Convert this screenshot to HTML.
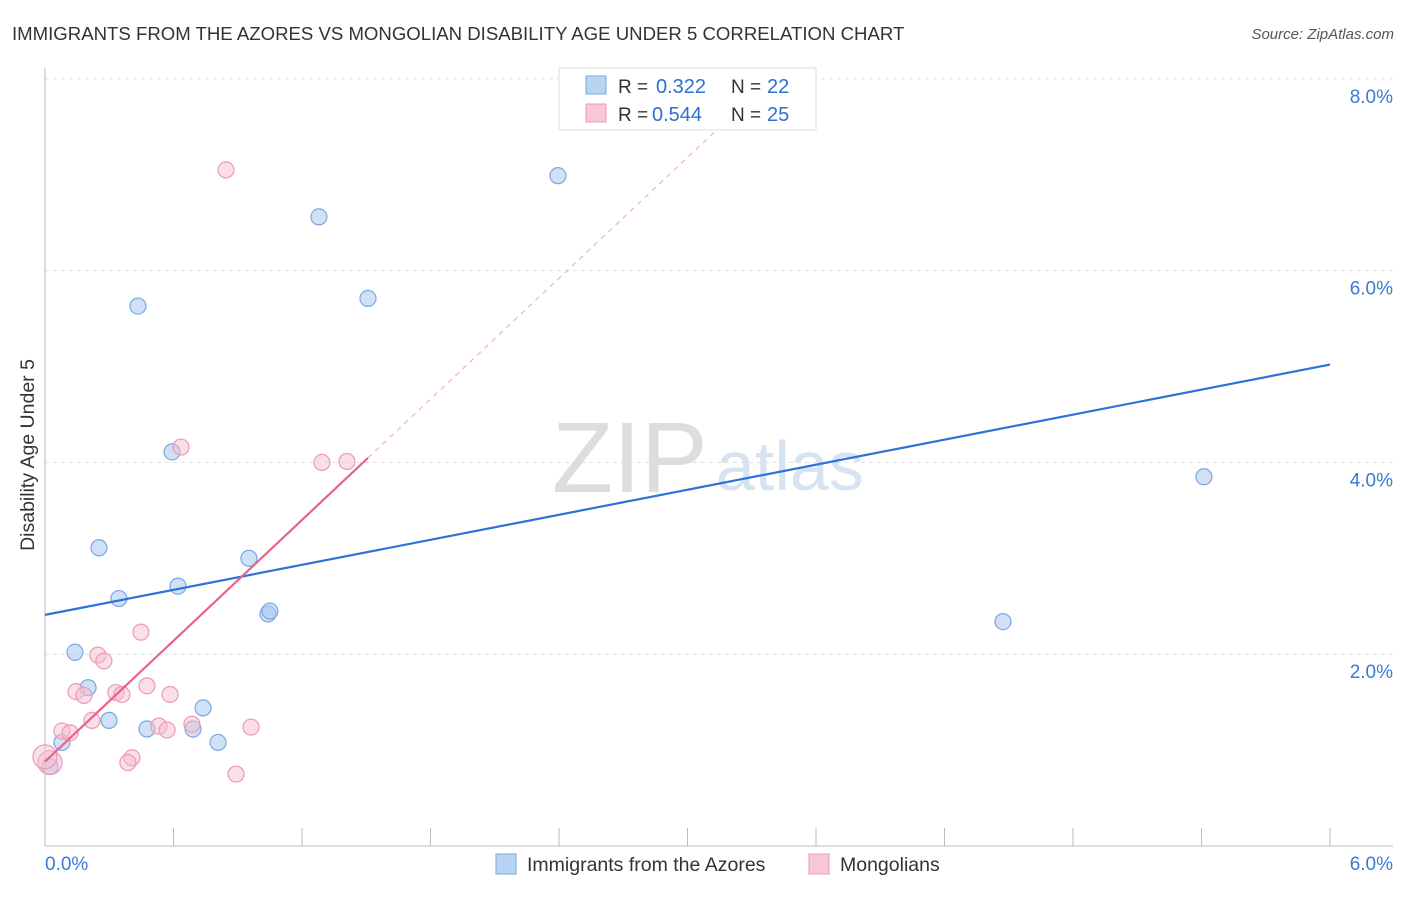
<!DOCTYPE html>
<html><head><meta charset="utf-8"><style>
body{margin:0;background:#fff;font-family:"Liberation Sans",sans-serif;}
svg text{font-family:"Liberation Sans",sans-serif;}
</style></head><body>
<svg id="c" width="1406" height="892" xmlns="http://www.w3.org/2000/svg">
<text x="12" y="40" font-size="18.6" fill="#333">IMMIGRANTS FROM THE AZORES VS MONGOLIAN DISABILITY AGE UNDER 5 CORRELATION CHART</text>
<text x="1394" y="39" font-size="15" fill="#555" font-style="italic" text-anchor="end">Source: ZipAtlas.com</text>
<text x="552" y="492" font-size="100" fill="#ddd" font-family="Liberation Serif">ZIP</text>
<text x="716" y="490" font-size="70" fill="#d5e3f3">atlas</text>
<text transform="translate(34,455) rotate(-90)" font-size="19.5" fill="#333" text-anchor="middle">Disability Age Under 5</text>
<g id="grid"></g><g id="marks"></g>
<g>
<rect x="559" y="68" width="257" height="62" fill="#fff" stroke="#ddd"/>
<rect x="586" y="76" width="20" height="18" fill="#b9d4f3" stroke="#7aa7e0"/>
<rect x="586" y="104" width="20" height="18" fill="#f8c8d7" stroke="#eb9ab3"/>
<text x="618" y="93" font-size="19" fill="#333">R = </text><text x="656" y="93" font-size="20" fill="#2f6fd0">0.322</text>
<text x="731" y="93" font-size="19" fill="#333">N = </text><text x="767" y="93" font-size="20" fill="#2f6fd0">22</text>
<text x="618" y="121" font-size="19" fill="#333">R = </text><text x="652" y="121" font-size="20" fill="#2f6fd0">0.544</text>
<text x="731" y="121" font-size="19" fill="#333">N = </text><text x="767" y="121" font-size="20" fill="#2f6fd0">25</text>
</g>
<g>
<rect x="496" y="854" width="20" height="20" fill="#b9d4f3" stroke="#7aa7e0"/>
<text x="527" y="871" font-size="19.5" fill="#333">Immigrants from the Azores</text>
<rect x="809" y="854" width="20" height="20" fill="#f8c8d7" stroke="#eb9ab3"/>
<text x="840" y="871" font-size="19.5" fill="#333">Mongolians</text>
</g>
</svg>
<script>
const yTicks=[2,4,6,8];
const xTickLabels=["0.0%","6.0%"];
const blueX=[0.434,1.279,2.395,1.508,0.593,0.252,0.952,0.345,0.621,1.041,1.050,0.140,0.201,0.299,0.476,0.691,0.738,0.808,0.079,0.023,5.411,4.473];
const blueY=[5.63,6.56,6.99,5.71,4.11,3.11,3.00,2.58,2.71,2.42,2.45,2.02,1.65,1.31,1.22,1.22,1.44,1.08,1.08,0.83,3.85,2.34];
const pinkX=[0.845,0.635,1.293,1.410,0.448,0.247,0.275,0.145,0.182,0.331,0.359,0.476,0.584,0.219,0.079,0.117,0.532,0.686,0.570,0.962,0.406,0.387,0.892,0.023,0.0];
const pinkY=[7.05,4.16,4.00,4.01,2.23,1.99,1.93,1.61,1.57,1.60,1.58,1.67,1.58,1.31,1.20,1.18,1.25,1.27,1.21,1.24,0.92,0.87,0.75,0.87,0.93];
const pinkR=[8,8,8,8,8,8,8,8,8,8,8,8,8,8,8,8,8,8,8,8,8,8,8,12,12];
const blueTrend=[2.41,5.02];
const pinkTrend=[0.88,2.10];
const NS="http://www.w3.org/2000/svg";
const X=v=>45+v*214.17, Y=v=>846-v*95.9;
function mk(t,a,p){const e=document.createElementNS(NS,t);for(const k in a)e.setAttribute(k,a[k]);p.appendChild(e);return e;}
const g=document.getElementById('grid'), m=document.getElementById('marks');
yTicks.forEach(t=>{
 const l=mk('line',{x1:45,x2:1393,y1:Y(t),y2:Y(t),stroke:'#ddd','stroke-dasharray':'4,4'},g);
 
 
 const tx=mk('text',{x:1393,y:Y(t)+24,'font-size':19,fill:'#3b78d8','text-anchor':'end'},g);tx.textContent=t.toFixed(1)+'%';
 
 
});
const ax=mk('line',{x1:45,x2:45,y1:68,y2:846,stroke:'#bbb'},g);


const bx=mk('line',{x1:45,x2:1393,y1:846,y2:846,stroke:'#bbb'},g);


for(let i=0;i<=10;i++){const t=mk('line',{x1:X(i*0.6),x2:X(i*0.6),y1:828,y2:846,stroke:'#bbb'},g);
 
 }
[[0,'start',45],[1,'end',1393]].forEach(([i,a,x])=>{const t=mk('text',{x:x,y:870,'font-size':19,fill:'#3b78d8','text-anchor':a},g);t.textContent=xTickLabels[i];
 
 });
blueX.forEach((v,i)=>{const c=mk('circle',{cx:X(v),cy:Y(blueY[i]),r:8,fill:'rgba(170,200,240,0.55)',stroke:'#7aa7e0','stroke-width':1.2},m);
 
 });
pinkX.forEach((v,i)=>{const c=mk('circle',{cx:X(v),cy:Y(pinkY[i]),r:pinkR[i],fill:'rgba(246,190,210,0.5)',stroke:'#eb9ab3','stroke-width':1.2},m);
 
 });
const bl=mk('line',{x1:X(0),y1:Y(blueTrend[0]),x2:X(6),y2:Y(blueTrend[1]),stroke:'#2d72d9','stroke-width':2.2},m);


const pe=Math.max(...blueX.filter(v=>v<2));
const pl=mk('line',{x1:X(0),y1:Y(pinkTrend[0]),x2:X(pe),y2:Y(pinkTrend[0]+pinkTrend[1]*pe),stroke:'#e8638c','stroke-width':2.2},m);


const xd=3.2;
const pd=mk('line',{x1:X(pe),y1:Y(pinkTrend[0]+pinkTrend[1]*pe),x2:X(xd),y2:Y(pinkTrend[0]+pinkTrend[1]*xd),stroke:'#eeb0c3','stroke-width':1.2,'stroke-dasharray':'5,5'},m);


</script>
</body></html>
